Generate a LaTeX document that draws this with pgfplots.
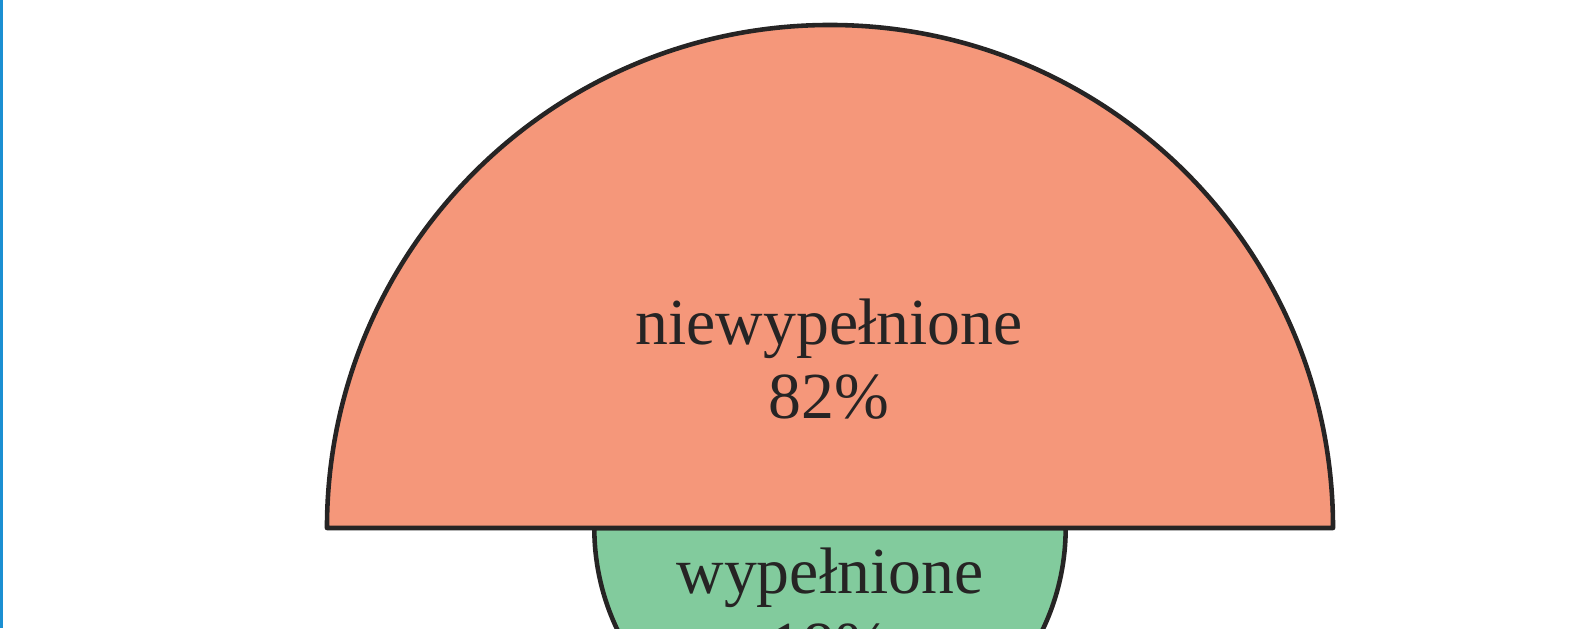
\documentclass[border=0pt]{standalone}
\usepackage{pgfplots}
\usepackage{pgfplotstable}
\pgfplotsset{compat=1.18}
\usepackage{fontspec}
\setmainfont{Liberation Serif}
\definecolor{salm}{HTML}{F5977A}
\definecolor{grn}{HTML}{82CB9D}
\definecolor{dk}{HTML}{262424}
\definecolor{blueline}{HTML}{1B8FD2}
\pgfplotstableread{
name value
niewypelnione 82
wypelnione 18
}\datatab
\pgfplotstablegetelem{0}{value}\of\datatab \let\vA\pgfplotsretval
\pgfplotstablegetelem{1}{value}\of\datatab \let\vB\pgfplotsretval
\pgfmathsetmacro\rA{55.55*sqrt(\vA)}
\pgfmathsetmacro\rB{55.55*sqrt(\vB)}
\pgfmathsetmacro\rAmm{\rA/10}
\pgfmathsetmacro\rBmm{\rB/10}
\begin{document}
\begin{tikzpicture}
\clip (0,0) rectangle (158.9mm,62.8mm);
\begin{axis}[at={(0,0)}, anchor=south west, scale only axis,
  width=158.9mm, height=62.8mm, xmin=0, xmax=1589, ymin=-628, ymax=0,
  hide axis, clip=false]
\addplot[draw=blueline, line width=0.85pt, forget plot] coordinates {(1.5,0) (1.5,-628)};
% small (wypelnione) semicircle, bottom half
\filldraw[fill=grn, draw=dk, line width=1.3pt, line join=round]
  (axis cs:{830+\rB},-528) arc[start angle=0, end angle=-180, radius=\rBmm mm] -- cycle;
% big (niewypelnione) semicircle, top half
\filldraw[fill=salm, draw=dk, line width=1.3pt, line join=round]
  (axis cs:{830-\rA},-528) arc[start angle=180, end angle=0, radius=\rAmm mm] -- cycle;
\node[anchor=base, text=dk, font=\fontsize{18.7}{22}\selectfont] at (axis cs:829,-344) {niewypełnione};
\node[anchor=base, text=dk, font=\fontsize{18.7}{22}\selectfont] at (axis cs:829,-418) {\vA\%};
\node[anchor=base, text=dk, font=\fontsize{18.7}{22}\selectfont] at (axis cs:830,-593) {wypełnione};
\node[anchor=base, text=dk, font=\fontsize{18.7}{22}\selectfont] at (axis cs:830,-667) {\vB\%};
\end{axis}
\end{tikzpicture}
\end{document}
